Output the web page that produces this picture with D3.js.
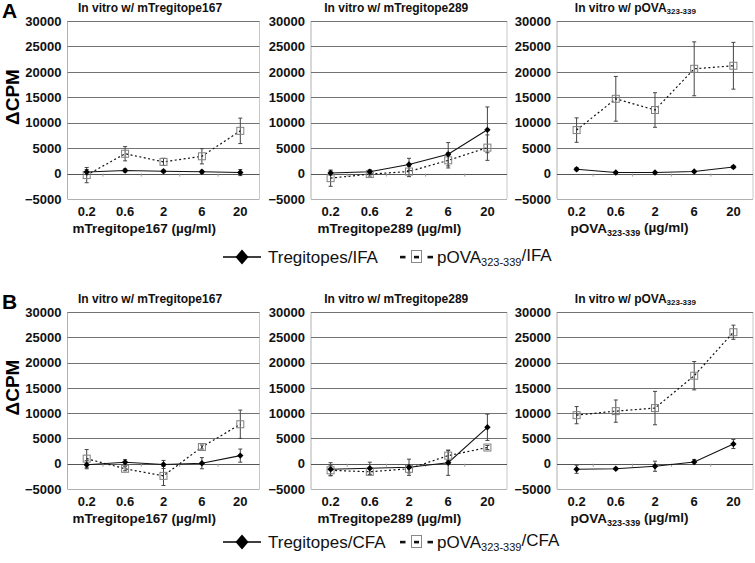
<!DOCTYPE html>
<html><head><meta charset="utf-8">
<script src="https://cdnjs.cloudflare.com/ajax/libs/d3/7.8.5/d3.min.js"></script>
<style>body{margin:0;background:#fff}svg{display:block}text{font-family:Arial,"Liberation Sans",sans-serif}</style>
</head><body><svg id="c" width="755" height="563"></svg>
<script>
const doses = ["0.2","0.6","2","6","20"];
const yTicks = [-5000,0,5000,10000,15000,20000,25000,30000];
// Row A (IFA)
const A1_treg = [300,600,450,350,200], A1_treg_err = [500,300,250,300,600];
const A1_pova = [-300,3900,2300,3400,8400], A1_pova_err = [1500,1400,700,1500,2500];
const A2_treg = [100,350,1800,3800,8600], A2_treg_err = [400,400,1200,2300,4500];
const A2_pova = [-900,-100,400,2600,5100], A2_pova_err = [1600,400,1000,1500,2500];
const A3_treg = [850,200,200,400,1300], A3_treg_err = [300,200,200,200,300];
const A3_pova = [8550,14700,12500,20600,21200], A3_pova_err = [2400,4400,3400,5300,4600];
// Row B (CFA)
const B1_treg = [-200,300,-150,100,1600], B1_treg_err = [800,500,800,1100,1300];
const B1_pova = [1000,-1000,-2400,3300,7800], B1_pova_err = [1800,400,1900,400,2800];
const B2_treg = [-1100,-900,-700,200,7200], B2_treg_err = [1300,1200,1600,2500,2600];
const B2_pova = [-1300,-1600,-1000,1600,3200], B2_pova_err = [1000,600,800,1000,400];
const B3_treg = [-1100,-1000,-500,350,3900], B3_treg_err = [800,200,1000,500,900];
const B3_pova = [9600,10400,11000,17400,26000], B3_pova_err = [1700,2200,3300,2800,1400];

const titles = [["In vitro w/ mTregitope167"],["In vitro w/ mTregitope289"],["In vitro w/ pOVA","323-339",""]];
const xTitles = [["mTregitope167 (µg/ml)"],["mTregitope289 (µg/ml)"],["pOVA","323-339"," (µg/ml)"]];
const rowLabels = ["A","B"];
const legendNames = [[["Tregitopes/IFA"],["pOVA","323-339","/IFA"]],[["Tregitopes/CFA"],["pOVA","323-339","/CFA"]]];

const panels = [
 [[A1_treg,A1_treg_err,A1_pova,A1_pova_err],[A2_treg,A2_treg_err,A2_pova,A2_pova_err],[A3_treg,A3_treg_err,A3_pova,A3_pova_err]],
 [[B1_treg,B1_treg_err,B1_pova,B1_pova_err],[B2_treg,B2_treg_err,B2_pova,B2_pova_err],[B3_treg,B3_treg_err,B3_pova,B3_pova_err]]
];

const colX = [[67.5,259.5],[311,507],[557,753]];
const rowY = [[21,199],[312,489]];
const legendY = [257,542];
const titleFrac = [0.43,0.435,0.40];
const xTitleFrac = [0.40,0.40,0.37];

const svg = d3.select("#c");

function subText(sel, parts, bigSize, smallSize){
  sel.append("tspan").text(parts[0]);
  if(parts.length>1){
    sel.append("tspan").attr("font-size",smallSize).attr("dy","0.3em").text(parts[1]);
    sel.append("tspan").attr("dy","-0.3em").attr("font-size",bigSize).text(parts[2]);
  }
}

const diamond = r => `M0,${-r}L${r},0L0,${r}L${-r},0Z`;

rowY.forEach((ry,ri)=>{
  const [top,bottom] = ry;
  svg.append("text").attr("x",2).attr("y",top-3).attr("font-size",21).attr("font-weight","bold").text(rowLabels[ri]);
  svg.append("text").attr("transform",`translate(19,${(top+bottom)/2-13}) rotate(-90)`)
    .attr("text-anchor","middle").attr("font-size",19).attr("font-weight","bold").text("ΔCPM");
  colX.forEach((cx,ci)=>{
    const [left,right] = cx;
    const [treg,tregErr,pova,povaErr] = panels[ri][ci];
    const x = d3.scaleBand().domain(doses).range([left,right]);
    const y = d3.scaleLinear().domain([-5000,30000]).range([bottom,top]);
    const g = svg.append("g");
    // frame
    g.append("line").attr("x1",left).attr("x2",left).attr("y1",top).attr("y2",bottom).attr("stroke","#b0b0b0");
    g.append("line").attr("x1",right).attr("x2",right).attr("y1",top).attr("y2",bottom).attr("stroke","#c8c8c8");
    // gridlines
    g.selectAll(".grid").data(yTicks).join("line")
      .attr("x1",left).attr("x2",right)
      .attr("y1",d=>Math.round(y(d))+0.5).attr("y2",d=>Math.round(y(d))+0.5)
      .attr("stroke",d=>d===0?"#555":(d===-5000?"#b0b0b0":"#737373")).attr("stroke-width",d=>d===0?1.2:1.1);
    // minor ticks on zero line
    const bw = x.bandwidth();
    g.selectAll(".mt").data(doses.slice(1)).join("line")
      .attr("x1",d=>x(d)-3).attr("x2",d=>x(d)-3)
      .attr("y1",y(0)).attr("y2",y(0)+3).attr("stroke","#999");
    // y axis
    const ya = g.append("g").attr("transform",`translate(${left},0)`)
      .call(d3.axisLeft(y).tickValues(yTicks).tickSize(0).tickPadding(6).tickFormat(d3.format("d")));
    ya.select(".domain").remove();
    ya.selectAll("text").attr("font-size",13).attr("font-weight","bold").attr("fill","#111").attr("font-family","Arial,'Liberation Sans',sans-serif");
    // x axis
    const xa = g.append("g").attr("transform",`translate(0,${bottom})`)
      .call(d3.axisBottom(x).tickSize(0).tickPadding(8));
    xa.select(".domain").remove();
    xa.selectAll("text").attr("font-size",13).attr("font-weight","bold").attr("fill","#111").attr("font-family","Arial,'Liberation Sans',sans-serif");
    // titles
    subText(g.append("text").attr("x",left+(right-left)*titleFrac[ci]).attr("y",top-9).attr("text-anchor","middle")
      .attr("font-size",12).attr("font-weight","bold").attr("fill","#111"), titles[ci], 12, 8);
    subText(g.append("text").attr("x",left+(right-left)*xTitleFrac[ci]).attr("y",bottom+34).attr("text-anchor","middle")
      .attr("font-size",13.5).attr("font-weight","bold").attr("fill","#111"), xTitles[ci], 13.5, 9);
    // series
    const cxp = (d,i)=>x(doses[i])+bw/2;
    const series = [
      {v:pova,e:povaErr,dash:"2,2.5",sq:true},
      {v:treg,e:tregErr,dash:null,sq:false}
    ];
    series.forEach(s=>{
      const eg = g.append("g");
      s.v.forEach((v,i)=>{
        const xx = cxp(v,i);
        eg.append("line").attr("x1",xx).attr("x2",xx).attr("y1",y(v+s.e[i])).attr("y2",y(v-s.e[i])).attr("stroke","#444").attr("stroke-width",1);
        [v+s.e[i],v-s.e[i]].forEach(e=>eg.append("line").attr("x1",xx-2).attr("x2",xx+2).attr("y1",y(e)).attr("y2",y(e)).attr("stroke","#444"));
      });
      const line = d3.line().x((d,i)=>cxp(d,i)).y(d=>y(d));
      g.append("path").datum(s.v).attr("d",line).attr("fill","none").attr("stroke","#111")
        .attr("stroke-width",s.sq?1.2:1.1).attr("stroke-dasharray",s.dash);
    });
    series.forEach(s=>{
      s.v.forEach((v,i)=>{
        const xx = cxp(v,i), yy = y(v);
        if(s.sq){
          g.append("rect").attr("x",xx-3.5).attr("y",yy-3.5).attr("width",7).attr("height",7)
            .attr("fill","none").attr("stroke","#808080").attr("stroke-width",1);
        } else {
          g.append("path").attr("d",diamond(3.2)).attr("transform",`translate(${xx},${yy})`).attr("fill","#000");
        }
      });
    });
  });
  // legend
  const ly = legendY[ri];
  const lg = svg.append("g");
  lg.append("line").attr("x1",223).attr("x2",261).attr("y1",ly).attr("y2",ly).attr("stroke","#000").attr("stroke-width",1.3);
  lg.append("path").attr("d","M0,-7.5L6.5,0L0,7.5L-6.5,0Z").attr("transform",`translate(242,${ly})`).attr("fill","#000");
  subText(lg.append("text").attr("x",268).attr("y",ly).attr("dy","0.36em").attr("font-size",17).attr("fill","#111"), legendNames[ri][0], 17, 11);
  lg.append("rect").attr("x",400).attr("y",ly-1.2).attr("width",5.5).attr("height",2.6).attr("fill","#111");
  lg.append("rect").attr("x",411.5).attr("y",ly-6.5).attr("width",10).attr("height",12).attr("fill","none").attr("stroke","#888");
  lg.append("rect").attr("x",414).attr("y",ly-1.2).attr("width",5).attr("height",2.6).attr("fill","#111");
  lg.append("rect").attr("x",427.5).attr("y",ly-1.2).attr("width",5.5).attr("height",2.6).attr("fill","#111");
  subText(lg.append("text").attr("x",437).attr("y",ly).attr("dy","0.36em").attr("font-size",17).attr("fill","#111"), legendNames[ri][1], 17, 11);
});
</script></body></html>
